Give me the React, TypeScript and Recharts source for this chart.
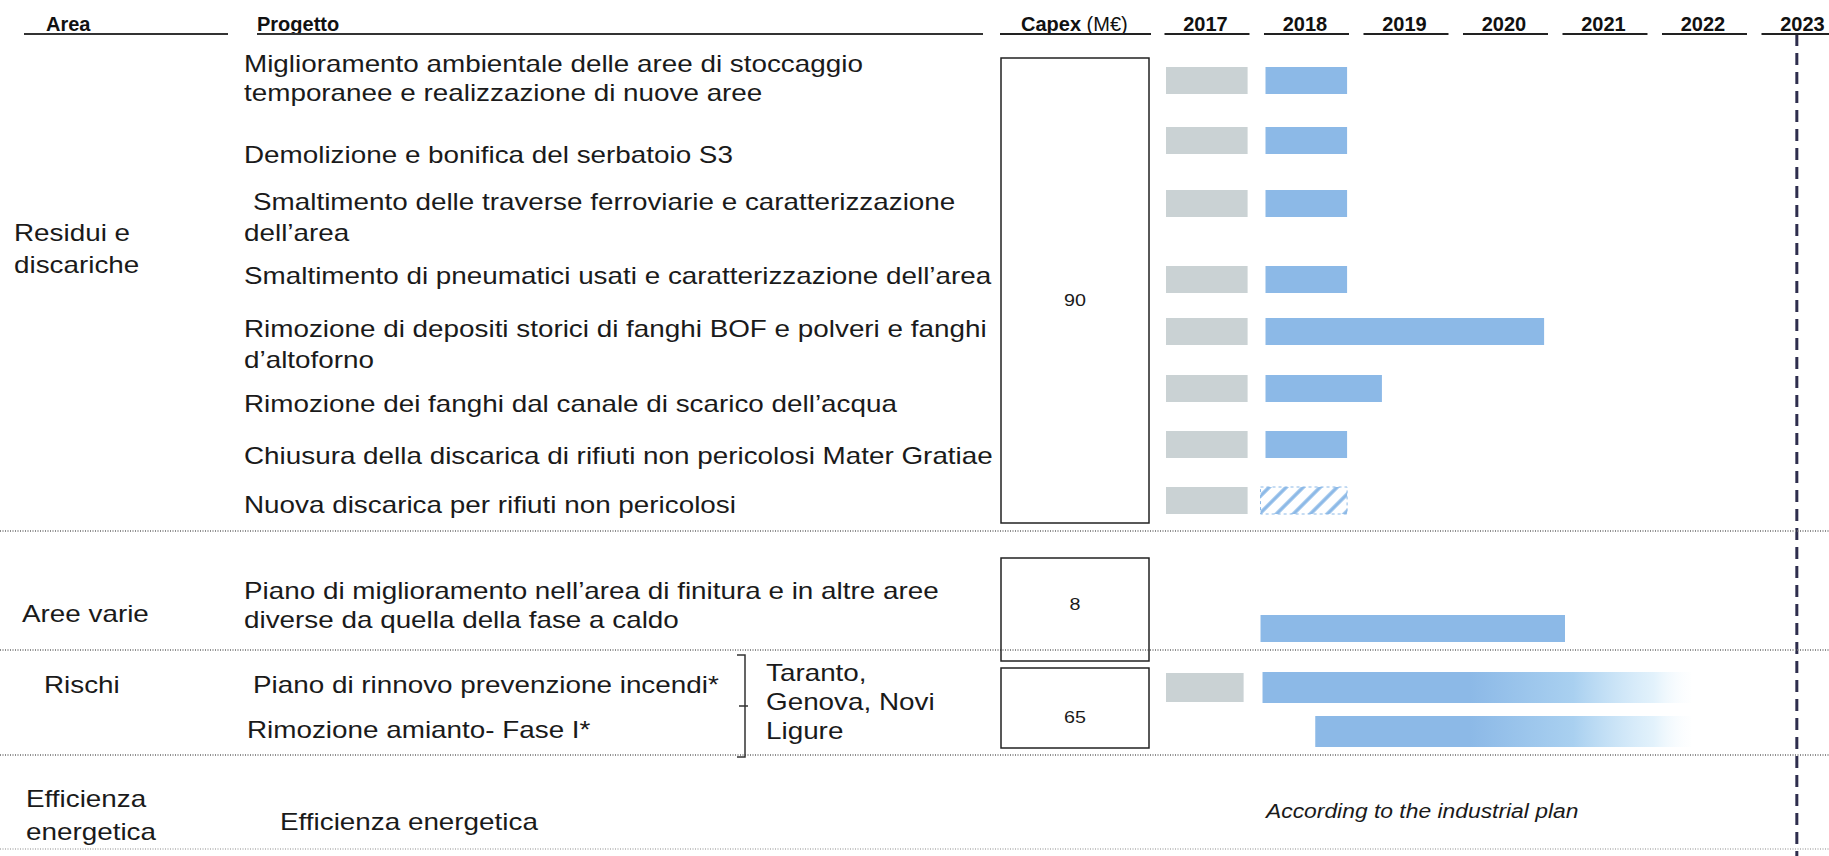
import React from "react";
import { ComposedChart, Bar, XAxis, YAxis, ReferenceLine } from "recharts";

// header / categories
const years = ["2017", "2018", "2019", "2020", "2021", "2022", "2023"];

const areaLabels = [["Residui e", "discariche"], ["Aree varie"], ["Rischi"], ["Efficienza", "energetica"]];

const projects = [
  ["Miglioramento ambientale delle aree di stoccaggio", "temporanee e realizzazione di nuove aree"],
  ["Demolizione e bonifica del serbatoio S3"],
  ["Smaltimento delle traverse ferroviarie e caratterizzazione", "dell’area"],
  ["Smaltimento di pneumatici usati e caratterizzazione dell’area"],
  ["Rimozione di depositi storici di fanghi BOF e polveri e fanghi", "d’altoforno"],
  ["Rimozione dei fanghi dal canale di scarico dell’acqua"],
  ["Chiusura della discarica di rifiuti non pericolosi Mater Gratiae"],
  ["Nuova discarica per rifiuti non pericolosi"],
  ["Piano di miglioramento nell’area di finitura e in altre aree", "diverse da quella della fase a caldo"],
  ["Piano di rinnovo prevenzione incendi*"],
  ["Rimozione amianto- Fase I*"],
  ["Efficienza energetica"],
];

const capex = ["90", "8", "65"];
const sites = ["Taranto,", "Genova, Novi", "Ligure"];
const note = "According to the industrial plan";

// timeline values (years), one per bar row (projects 1-11)
const phase1Start = [2017, 2017, 2017, 2017, 2017, 2017, 2017, 2017, null, 2017, null];
const phase1End = [2017.82, 2017.82, 2017.82, 2017.82, 2017.82, 2017.82, 2017.82, 2017.82, null, 2017.78, null];
const phase2Start = [2018, 2018, 2018, 2018, 2018, 2018, 2018, 2017.95, 2017.95, 2017.97, 2018.5];
const phase2End = [2018.82, 2018.82, 2018.82, 2018.82, 2020.8, 2019.17, 2018.82, 2018.82, 2021.01, 2022.28, 2022.28];
const phase2Status = ["firm", "firm", "firm", "firm", "firm", "firm", "firm", "planned", "firm", "ongoing", "ongoing"];
const planHorizon = 2023.34;

// layout (table row centres and text baselines)
const rowY = [80, 140, 203, 279, 331, 388, 444, 500, 628, 687, 731];
const projectTextY = [[72, 101], [163], [210, 241], [284], [337, 368], [412], [464], [513], [599, 628], [693], [738], [830]];
const projectTextX = [244, 244, 253, 244, 244, 244, 244, 244, 244, 253, 247, 280];
const areaTextY = [[241, 273], [622], [693], [807, 840]];
const areaTextX = [14, 22, 44, 26];
const capexBox = [[58, 523], [558, 661], [668, 748]];
const capexTextY = [306, 610, 723];
const separators = [531, 650, 755];

const BASE = 2017;
const COL = 99.5;
const PLOT_LEFT = 1166;
const W = 1829;
const H = 856;
const TOP = 34;

const GRAY = "#cad2d4";
const BLUE = "#8cb9e7";
const FONT = "'Liberation Sans', Arial, sans-serif";
const STRETCH = 1.16;

const rows = rowY.map((pos, i) => {
  const s1 = phase1Start[i];
  const e1 = phase1End[i];
  const s2 = phase2Start[i];
  const e2 = phase2End[i];
  const pad = (s1 != null ? s1 : s2) - BASE;
  return {
    pos,
    pad,
    p1: s1 != null && e1 != null ? e1 - s1 : 0,
    gap: s1 != null && e1 != null ? s2 - e1 : 0,
    p2: e2 - s2,
    status: phase2Status[i],
  };
});

const yearTicks = years.map((_, i) => i + 0.417);

function YearTick(props: any) {
  const { x, index } = props;
  return (
    <g>
      <text x={x - 2} y={31} textAnchor="middle" fontFamily={FONT} fontWeight="bold" fontSize={20} fill="#111">
        {years[index]}
      </text>
      <line x1={x - 43} x2={x + 42} y1={34} y2={34} stroke="#222" strokeWidth={2} />
    </g>
  );
}

function PhaseShape(props: any) {
  const { x, y, width, height, payload } = props;
  if (!width || width <= 0) return null;
  if (payload.status === "planned") {
    return (
      <g>
        <rect x={x} y={y} width={width} height={height} fill="url(#hatch)" />
        <rect x={x} y={y} width={width} height={height} fill="none" stroke={BLUE} strokeWidth={1} strokeDasharray="3 3" />
      </g>
    );
  }
  if (payload.status === "ongoing") {
    return <rect x={x} y={y - 2} width={width} height={height + 4} fill="url(#fade)" />;
  }
  return <rect x={x} y={y} width={width} height={height} fill={BLUE} />;
}

function GrayShape(props: any) {
  const { x, y, width, height, payload } = props;
  if (!width || width <= 0) return null;
  const g = payload.status === "ongoing" ? 1 : 0;
  return <rect x={x} y={y - g} width={width} height={height + 2 * g} fill={GRAY} />;
}

function Label({ x, y, size = 24, italic = false, anchor = "start", children }: any) {
  return (
    <text
      transform={`translate(${x} ${y}) scale(${STRETCH} 1)`}
      textAnchor={anchor}
      fontFamily={FONT}
      fontSize={size}
      fontStyle={italic ? "italic" : "normal"}
      fill="#1a1a1a"
    >
      {children}
    </text>
  );
}

export default function App() {
  return (
    <div style={{ position: "absolute", left: 0, top: 0, width: W, height: H, background: "#fff" }}>
      <svg width={0} height={0} style={{ position: "absolute" }}>
        <defs>
          <linearGradient id="fade" gradientUnits="userSpaceOnUse" x1={1470} y1={0} x2={1700} y2={0}>
            <stop offset="0" stopColor={BLUE} />
            <stop offset="0.45" stopColor="#a9d0f0" />
            <stop offset="0.8" stopColor="#d6ecfa" stopOpacity={0.7} />
            <stop offset="1" stopColor="#ffffff" stopOpacity={0} />
          </linearGradient>
          <pattern id="hatch" patternUnits="userSpaceOnUse" width={12} height={12} patternTransform="rotate(45)">
            <line x1={6} y1={0} x2={6} y2={12} stroke={BLUE} strokeWidth={3.5} />
          </pattern>
        </defs>
      </svg>

      <ComposedChart
        layout="vertical"
        width={W}
        height={H}
        data={rows}
        margin={{ top: 0, right: 0, bottom: 0, left: PLOT_LEFT }}
        barSize={27}
      >
        <XAxis
          type="number"
          orientation="top"
          height={TOP}
          domain={[0, (W - PLOT_LEFT) / COL]}
          ticks={yearTicks}
          interval={0}
          tick={<YearTick />}
          axisLine={false}
          tickLine={false}
          allowDataOverflow
        />
        <YAxis type="number" dataKey="pos" domain={[TOP, H]} hide width={0} allowDataOverflow />
        <Bar dataKey="pad" stackId="s" fill="transparent" isAnimationActive={false} />
        <Bar dataKey="p1" stackId="s" fill={GRAY} shape={GrayShape} isAnimationActive={false} />
        <Bar dataKey="gap" stackId="s" fill="transparent" isAnimationActive={false} />
        <Bar dataKey="p2" stackId="s" fill={BLUE} shape={PhaseShape} isAnimationActive={false} />
        <ReferenceLine x={planHorizon - BASE} stroke="#2e2e4e" strokeWidth={3} strokeDasharray="12 7" />
      </ComposedChart>

      <svg width={W} height={H} style={{ position: "absolute", left: 0, top: 0 }}>
        {/* header */}
        <g fontFamily={FONT} fontWeight="bold" fontSize={20} fill="#111">
          <text x={46} y={31}>Area</text>
          <line x1={24} x2={228} y1={34} y2={34} stroke="#333" strokeWidth={2} />
          <text x={257} y={31}>Progetto</text>
          <line x1={257} x2={983} y1={34} y2={34} stroke="#333" strokeWidth={2} />
          <text x={1021} y={31}>
            Capex <tspan fontWeight="normal">(M€)</tspan>
          </text>
          <line x1={1000} x2={1151} y1={34} y2={34} stroke="#222" strokeWidth={2} />
        </g>

        {separators.map((y) => (
          <line key={y} x1={0} x2={W} y1={y} y2={y} stroke="#8e8e8e" strokeWidth={2} strokeDasharray="1 1.5" />
        ))}
        <line x1={0} x2={W} y1={849} y2={849} stroke="#c4c4c4" strokeWidth={2} strokeDasharray="1 1.5" />

        {areaLabels.map((lines, i) =>
          lines.map((l, j) => (
            <Label key={`a${i}${j}`} x={areaTextX[i]} y={areaTextY[i][j]}>
              {l}
            </Label>
          ))
        )}

        {projects.map((lines, i) =>
          lines.map((l, j) => (
            <Label key={`p${i}${j}`} x={j === 0 ? projectTextX[i] : 244} y={projectTextY[i][j]}>
              {l}
            </Label>
          ))
        )}

        {/* bracket + sites */}
        <path d="M737 655 H745 V757 H737 M739 706 H748" fill="none" stroke="#333" strokeWidth={1.5} />
        {sites.map((s, i) => (
          <Label key={s} x={766} y={681 + i * 29}>
            {s}
          </Label>
        ))}

        {capexBox.map(([y0, y1], i) => (
          <g key={i}>
            <rect x={1001} y={y0} width={148} height={y1 - y0} fill="none" stroke="#222" strokeWidth={1.5} />
            <Label x={1075} y={capexTextY[i]} size={17} anchor="middle">
              {capex[i]}
            </Label>
          </g>
        ))}

        <Label x={1266} y={818} size={19.7} italic>
          {note}
        </Label>
      </svg>
    </div>
  );
}
